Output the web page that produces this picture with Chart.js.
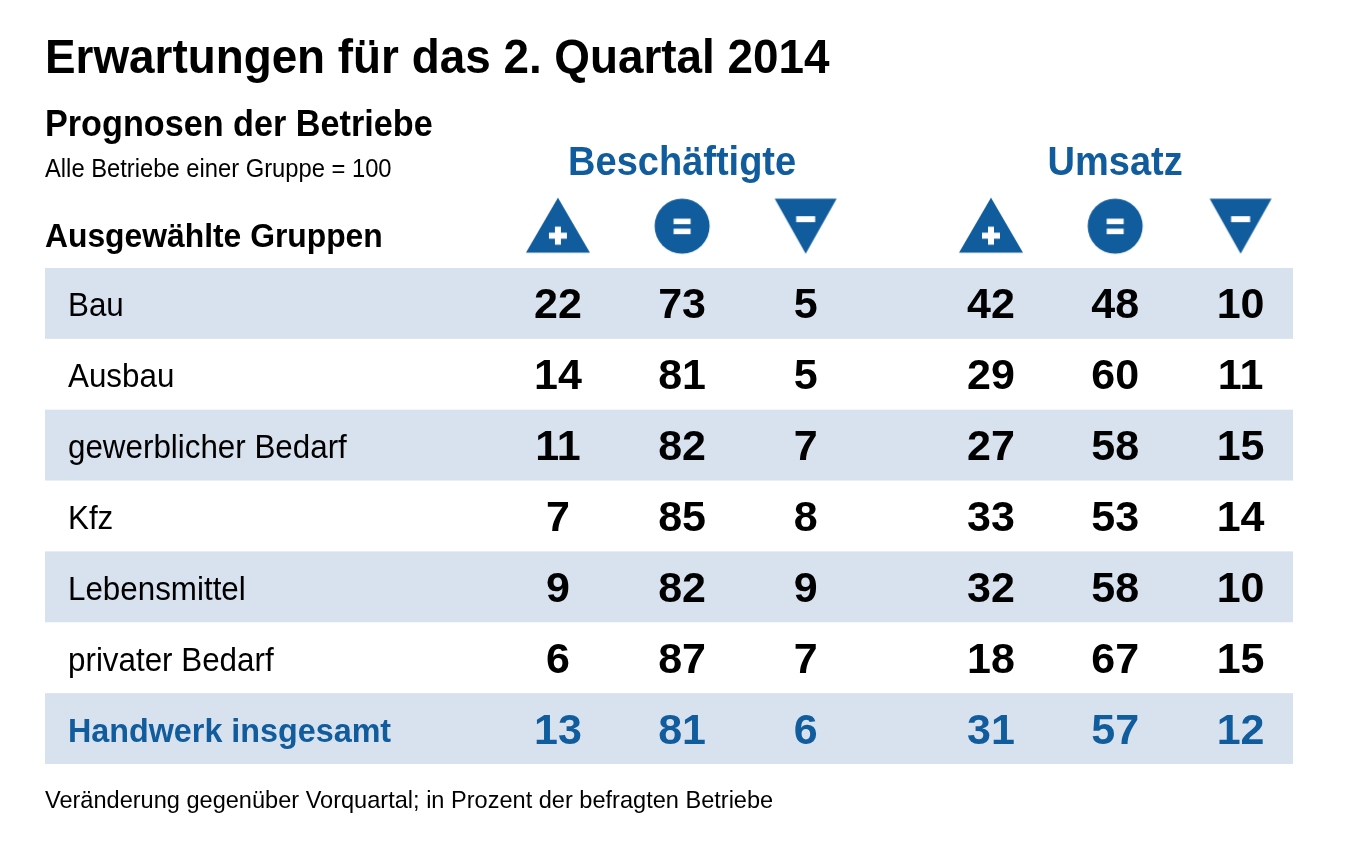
<!DOCTYPE html>
<html lang="de">
<head>
<meta charset="utf-8">
<title>Erwartungen für das 2. Quartal 2014</title>
<script src="https://cdn.jsdelivr.net/npm/chart.js@4.4.1/dist/chart.umd.min.js"></script>
<style>
  html, body { margin: 0; padding: 0; background: #fff; }
  #wrap { width: 1348px; height: 863px; position: relative; }
</style>
</head>
<body>
<div id="wrap"><canvas id="tableChart"></canvas></div>
<script>

// data
const groups = [
  'Bau',
  'Ausbau',
  'gewerblicher Bedarf',
  'Kfz',
  'Lebensmittel',
  'privater Bedarf',
  'Handwerk insgesamt'
];
const beschPlus   = [22, 14, 11, 7, 9, 6, 13];
const beschGleich = [73, 81, 82, 85, 82, 87, 81];
const beschMinus  = [5, 5, 7, 8, 9, 7, 6];
const umsatzPlus   = [42, 29, 27, 33, 32, 18, 31];
const umsatzGleich = [48, 60, 58, 53, 58, 67, 57];
const umsatzMinus  = [10, 11, 15, 14, 10, 15, 12];

const series = [beschPlus, beschGleich, beschMinus, umsatzPlus, umsatzGleich, umsatzMinus];
const iconKinds = ['plus', 'equal', 'minus', 'plus', 'equal', 'minus'];

// layout (x in percent of table width, y in rows)
const COL_X = [41.1, 51.05, 60.95, 75.8, 85.75, 95.8];
const ICON_ROW = -0.09;
const BLUE = '#105c9c';
const STRIPE = '#d8e1ee';
const FONT = "'Liberation Sans', Arial, sans-serif";

function makeIcon(kind) {
  const c = document.createElement('canvas');
  c.width = 66; c.height = 58;
  const g = c.getContext('2d');
  g.fillStyle = BLUE;
  g.beginPath();
  if (kind === 'plus') {
    g.moveTo(33, 0.5); g.lineTo(65, 55.5); g.lineTo(1, 55.5);
  } else if (kind === 'minus') {
    g.moveTo(2, 1.5); g.lineTo(64, 1.5); g.lineTo(33, 56.5);
  } else {
    g.arc(33, 29, 27.5, 0, Math.PI * 2);
  }
  g.closePath();
  g.fill();
  g.fillStyle = '#fff';
  if (kind === 'plus') {
    g.fillRect(24, 35.5, 18, 6);
    g.fillRect(30, 29.5, 6, 18);
  } else if (kind === 'minus') {
    g.fillRect(23.5, 19, 19, 6);
  } else {
    g.fillRect(24.5, 21.5, 17, 5.5);
    g.fillRect(24.5, 31.5, 17, 5.5);
  }
  return c;
}

function drawText(ctx, text, x, y, st, align) {
  ctx.save();
  ctx.font = (st.bold ? 'bold ' : '') + st.size + 'px ' + FONT;
  ctx.fillStyle = st.color || '#000';
  ctx.textAlign = 'left';
  ctx.textBaseline = 'alphabetic';
  const s = st.stretch || 0.95;
  const w = ctx.measureText(text).width * s;
  const x0 = align === 'center' ? x - w / 2 : x;
  ctx.translate(x0, y);
  ctx.scale(s, 1);
  ctx.fillText(text, 0, 0);
  ctx.restore();
}

const tablePlugin = {
  id: 'tablePlugin',
  beforeDatasetsDraw(chart) {
    const { ctx, chartArea, scales: { y } } = chart;
    ctx.save();
    ctx.fillStyle = STRIPE;
    groups.forEach((g, i) => {
      if (i % 2 !== 0) return;
      const top = y.getPixelForValue(i + 0.5);
      const bottom = y.getPixelForValue(i + 1.5);
      ctx.fillRect(chartArea.left, top, chartArea.right - chartArea.left, bottom - top);
    });
    ctx.restore();
  },
  afterDatasetsDraw(chart) {
    const { ctx, chartArea, scales: { x, y } } = chart;

    // headings
    drawText(ctx, 'Erwartungen für das 2. Quartal 2014', 45, 73, { size: 48.5, bold: true, stretch: 0.945 });
    drawText(ctx, 'Prognosen der Betriebe', 45, 136, { size: 36, bold: true });
    drawText(ctx, 'Alle Betriebe einer Gruppe = 100', 45, 177, { size: 25 });
    drawText(ctx, 'Ausgewählte Gruppen', 45, 247, { size: 33.5, bold: true });
    drawText(ctx, 'Beschäftigte', x.getPixelForValue(COL_X[1]), 175, { size: 40, bold: true, color: BLUE }, 'center');
    drawText(ctx, 'Umsatz', x.getPixelForValue(COL_X[4]), 175, { size: 40, bold: true, color: BLUE }, 'center');

    // row labels
    groups.forEach((g, i) => {
      const last = i === groups.length - 1;
      const st = last ? { size: 34, bold: true, color: BLUE } : { size: 33 };
      drawText(ctx, g, chartArea.left + 23, y.getPixelForValue(i + 1) + 13, st);
    });

    // cell values
    series.forEach((vals, c) => {
      const meta = chart.getDatasetMeta(c);
      meta.data.forEach((pt, i) => {
        const last = i === vals.length - 1;
        drawText(ctx, String(vals[i]), pt.x, pt.y + 15, { size: 43, bold: true, stretch: 1, color: last ? BLUE : '#000' }, 'center');
      });
    });

    drawText(ctx, 'Veränderung gegenüber Vorquartal; in Prozent der befragten Betriebe', 45, 808, { size: 24.8 });
  }
};

const cellSets = series.map((vals, c) => ({
  label: 'col' + c,
  data: vals.map((v, i) => ({ x: COL_X[c], y: i + 1 })),
  pointRadius: 0
}));

const iconSet = {
  label: 'icons',
  data: COL_X.map(cx => ({ x: cx, y: ICON_ROW })),
  pointStyle: iconKinds.map(makeIcon),
  pointRadius: 28
};

const ctx = document.getElementById('tableChart').getContext('2d');
new Chart(ctx, {
  type: 'scatter',
  data: { datasets: [...cellSets, iconSet] },
  options: {
    responsive: true,
    maintainAspectRatio: false,
    animation: false,
    events: [],
    layout: { padding: { left: 45, right: 55, top: 190, bottom: 99 } },
    plugins: { legend: { display: false }, tooltip: { enabled: false } },
    scales: {
      x: { type: 'linear', min: 0, max: 100, display: false },
      y: { type: 'linear', min: -0.6, max: 7.5, reverse: true, display: false }
    }
  },
  plugins: [tablePlugin]
});
</script>
</body>
</html>
